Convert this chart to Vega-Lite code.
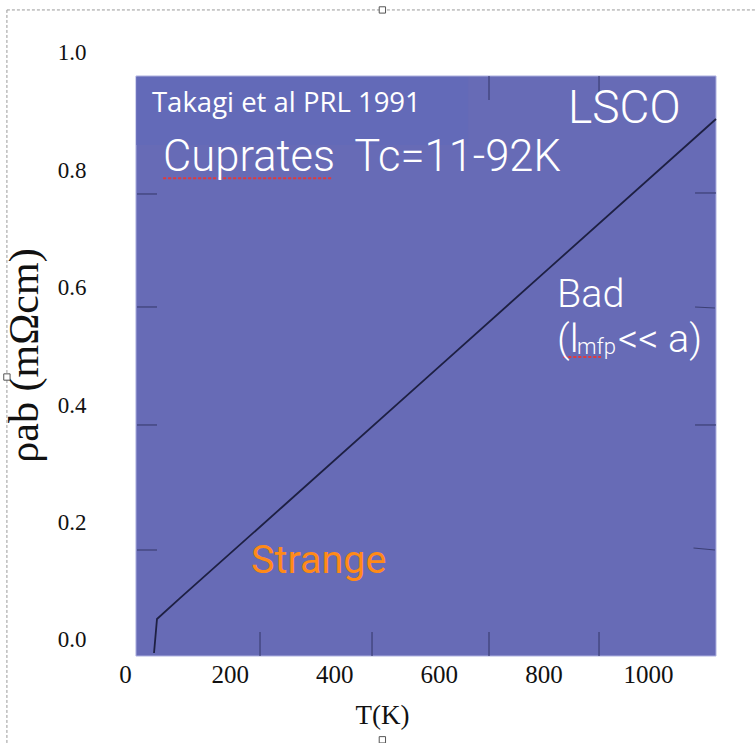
{
  "$schema": "https://vega.github.io/schema/vega-lite/v6.json",
  "width": 616,
  "height": 616,
  "autosize": {"type": "none"},
  "padding": {"left": 100, "top": 40, "right": 40, "bottom": 87},
  "background": "white",
  "config": {"view": {"stroke": null}},
  "encoding": {
    "x": {
      "field": "T",
      "type": "quantitative",
      "scale": {"domain": [-48, 1130], "nice": false, "zero": false},
      "axis": {
        "title": "T(K)",
        "values": [0, 200, 400, 600, 800, 1000],
        "format": "d",
        "grid": false,
        "ticks": false,
        "domain": false,
        "labelFont": "Liberation Serif",
        "labelFontSize": 25,
        "labelColor": "#111111",
        "labelPadding": 6,
        "titleFont": "Liberation Serif",
        "titleFontSize": 27,
        "titleFontWeight": "normal",
        "titleColor": "#111111",
        "titleX": 282,
        "titleY": 67,
        "titleBaseline": "alphabetic"
      }
    },
    "y": {
      "field": "rho",
      "type": "quantitative",
      "scale": {"domain": [-0.02726, 1.0221], "nice": false, "zero": false},
      "axis": {
        "title": "ρab (mΩcm)",
        "values": [0, 0.2, 0.4, 0.6, 0.8, 1.0],
        "format": ".1f",
        "grid": false,
        "ticks": false,
        "domain": false,
        "labelFont": "Liberation Serif",
        "labelFontSize": 23,
        "labelColor": "#111111",
        "labelPadding": 14,
        "titleFont": "Liberation Serif",
        "titleFontSize": 42,
        "titleFontWeight": "normal",
        "titleColor": "#111111",
        "titleAngle": 270,
        "titleAlign": "center",
        "titleBaseline": "alphabetic",
        "titleX": -63,
        "titleY": 315
      }
    }
  },
  "layer": [
    {
      "description": "dashed page frame",
      "data": {"values": [
        {"T": -226, "T2": 1207, "rho": 1.0733, "rho2": 1.0733},
        {"T": -226, "T2": -226, "rho": 1.0733, "rho2": -0.18}
      ]},
      "mark": {"type": "rule", "color": "#9a9a9a", "strokeWidth": 1, "strokeDash": [3, 2]},
      "encoding": {"x2": {"field": "T2"}, "y2": {"field": "rho2"}}
    },
    {
      "description": "frame handles",
      "data": {"values": [
        {"T": 492, "rho": 1.0733},
        {"T": -226, "rho": 0.448},
        {"T": 492, "rho": -0.17}
      ]},
      "mark": {"type": "square", "size": 40, "filled": true, "fill": "white", "stroke": "#555555", "strokeWidth": 1, "opacity": 1}
    },
    {
      "description": "coloured plot panel",
      "data": {"values": [{"T": 20.8, "T2": 1130, "rho": 0.9608, "rho2": -0.02726}]},
      "mark": {"type": "rect", "color": "#676bb6", "stroke": "#aeb1e0", "strokeWidth": 1},
      "encoding": {"x2": {"field": "T2"}, "y2": {"field": "rho2"}}
    },
    {
      "description": "citation box",
      "data": {"values": [{"T": 21.5, "T2": 656, "rho": 0.959, "rho2": 0.8433}]},
      "mark": {"type": "rect", "color": "#636ab8"},
      "encoding": {"x2": {"field": "T2"}, "y2": {"field": "rho2"}}
    },
    {
      "description": "inner frame ticks",
      "data": {"values": [
        {"T": 258.0, "T2": 258.0, "rho": 0.0136, "rho2": -0.0272},
        {"T": 472.2, "T2": 472.2, "rho": 0.0136, "rho2": -0.0272},
        {"T": 695.9, "T2": 695.9, "rho": 0.0136, "rho2": -0.0272},
        {"T": 906.3, "T2": 906.3, "rho": 0.0136, "rho2": -0.0272},
        {"T": 695.9, "T2": 695.9, "rho": 0.9608, "rho2": 0.9199},
        {"T": 906.3, "T2": 906.3, "rho": 0.9608, "rho2": 0.9301},
        {"T": 22.8, "T2": 61.0, "rho": 0.7598, "rho2": 0.7598},
        {"T": 22.8, "T2": 61.0, "rho": 0.5673, "rho2": 0.5673},
        {"T": 22.8, "T2": 61.0, "rho": 0.3663, "rho2": 0.3663},
        {"T": 22.8, "T2": 61.0, "rho": 0.1533, "rho2": 0.1533},
        {"T": 1089.9, "T2": 1130, "rho": 0.7615, "rho2": 0.7615},
        {"T": 1089.9, "T2": 1128, "rho": 0.5673, "rho2": 0.5656},
        {"T": 1089.9, "T2": 1130, "rho": 0.3663, "rho2": 0.3663},
        {"T": 1087, "T2": 1128, "rho": 0.1567, "rho2": 0.1533}
      ]},
      "mark": {"type": "rule", "color": "#3c3f74", "strokeWidth": 1.2},
      "encoding": {"x2": {"field": "T2"}, "y2": {"field": "rho2"}}
    },
    {
      "description": "in-plane resistivity of LSCO",
      "data": {"values": [
        {"T": 55.3, "rho": -0.0221},
        {"T": 61.0, "rho": 0.0358},
        {"T": 105.0, "rho": 0.0712},
        {"T": 300.0, "rho": 0.2262},
        {"T": 575.5, "rho": 0.4458},
        {"T": 810.0, "rho": 0.6326},
        {"T": 1130.0, "rho": 0.8876}
      ]},
      "mark": {"type": "line", "color": "#1e2043", "strokeWidth": 1.8}
    },
    {
      "description": "dotted underlines",
      "data": {"values": [
        {"T": 72.7, "T2": 397.6, "rho": 0.7865, "rho2": 0.7865},
        {"T": 838, "T2": 910, "rho": 0.482, "rho2": 0.482}
      ]},
      "mark": {"type": "rule", "color": "#e23a3a", "strokeWidth": 2, "strokeDash": [3, 2]},
      "encoding": {"x2": {"field": "T2"}, "y2": {"field": "rho2"}}
    },
    {
      "data": {"values": [{"label": "Takagi et al PRL 1991", "T": 51.4, "rho": 0.8995}]},
      "mark": {"type": "text", "align": "left", "baseline": "alphabetic", "font": "Open Sans", "fontSize": 27.5, "color": "white"},
      "encoding": {"text": {"field": "label"}}
    },
    {
      "data": {"values": [
        {"label": "Cuprates", "T": 72.7, "rho": 0.799},
        {"label": "Tc=11-92K", "T": 438, "rho": 0.799}
      ]},
      "mark": {"type": "text", "align": "left", "baseline": "alphabetic", "font": "Roboto", "fontWeight": 300, "fontSize": 43.5, "color": "white"},
      "encoding": {"text": {"field": "label"}}
    },
    {
      "data": {"values": [{"label": "LSCO", "T": 847, "rho": 0.8807}]},
      "mark": {"type": "text", "align": "left", "baseline": "alphabetic", "font": "Roboto", "fontWeight": 300, "fontSize": 46, "color": "white"},
      "encoding": {"text": {"field": "label"}}
    },
    {
      "data": {"values": [
        {"label": "Bad", "T": 826, "rho": 0.5673},
        {"label": "(l", "T": 826, "rho": 0.4906},
        {"label": "<< a)", "T": 942.6, "rho": 0.4906}
      ]},
      "mark": {"type": "text", "align": "left", "baseline": "alphabetic", "font": "Roboto", "fontWeight": 300, "fontSize": 39.5, "color": "white"},
      "encoding": {"text": {"field": "label"}}
    },
    {
      "data": {"values": [{"label": "mfp", "T": 864, "rho": 0.4872}]},
      "mark": {"type": "text", "align": "left", "baseline": "alphabetic", "font": "Roboto", "fontWeight": 300, "fontSize": 22, "color": "white"},
      "encoding": {"text": {"field": "label"}}
    },
    {
      "data": {"values": [{"label": "Strange", "T": 240.8, "rho": 0.1141}]},
      "mark": {"type": "text", "align": "left", "baseline": "alphabetic", "font": "Roboto", "fontSize": 39.5, "color": "#ff8a18"},
      "encoding": {"text": {"field": "label"}}
    }
  ]
}
